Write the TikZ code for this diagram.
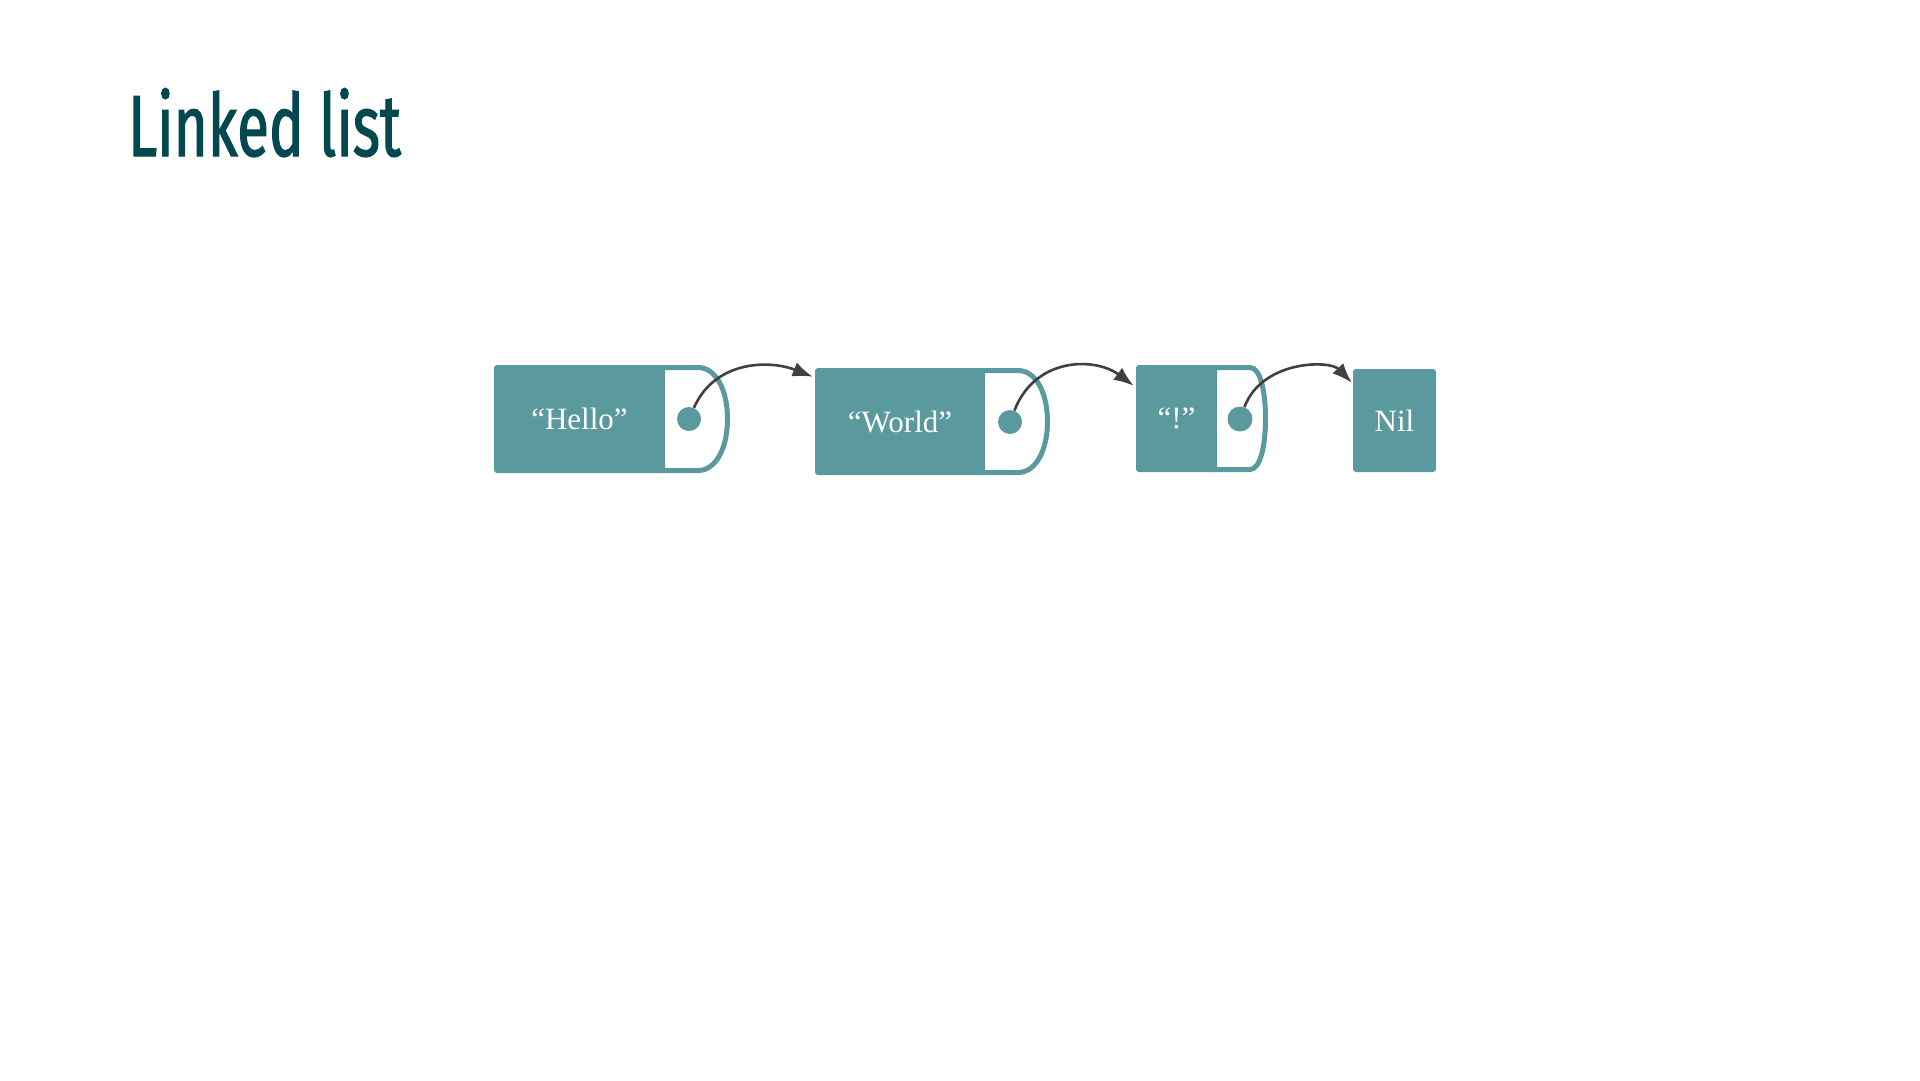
\documentclass[tikz,border=0pt]{standalone}
\usepackage{fontspec}
\setmainfont{Liberation Serif}
\newfontfamily\titlefont[FakeStretch=0.67,FakeBold=1.3]{Fira Sans}
\usetikzlibrary{arrows.meta}
\definecolor{teal1}{RGB}{90,154,158}
\definecolor{titlec}{RGB}{3,71,79}
\definecolor{arrowc}{RGB}{64,64,64}
\tikzset{
  cell/.style={fill=teal1, rounded corners=3pt, inner sep=0pt, text=white,
    font=\fontsize{31}{31}\selectfont, minimum height=#1},
  cell/.default=107pt,
  outline/.style={draw=teal1, line width=5pt},
  dotnode/.style={circle, fill=teal1, inner sep=0pt, minimum size=24pt},
  link/.style={draw=arrowc, line width=2.6pt, -{Latex[length=20pt,width=15pt]}}
}
\begin{document}
\begin{tikzpicture}[x=1pt,y=-1pt]
\useasboundingbox (0,0) rectangle (1920,1080);
% title
\node[anchor=base west, inner sep=0pt, text=titlec, font=\titlefont\fontsize{87}{87}\selectfont] (title) at (128,156) {Linked list};
% outlines of pointer cells
\draw[outline] (660,367.5) -- (698,367.5) .. controls (716,367.5) and (727.5,390) .. (727.5,419) .. controls (727.5,448) and (716,470.5) .. (698,470.5) -- (660,470.5);
\draw[outline] (980,370.5) -- (1018,370.5) .. controls (1036,370.5) and (1047.5,393) .. (1047.5,421.5) .. controls (1047.5,450) and (1036,472.5) .. (1018,472.5) -- (980,472.5);
\draw[outline] (1212,367.5) -- (1250,367.5) .. controls (1260,367.5) and (1265.5,390) .. (1265.5,418.5) .. controls (1265.5,447) and (1260,469.5) .. (1250,469.5) -- (1212,469.5);
% data cells
\node[cell=108pt, minimum width=171pt] (h) at (579.5,419) {“Hello”};
\node[cell=107pt, minimum width=170pt] (w) at (900,421.5) {“World”};
\node[cell=107pt, minimum width=81pt] (e) at (1176.5,418.5) {“!”};
\node[cell=103pt, minimum width=83pt] (nil) at (1394.5,420.5) {Nil};
% pointer dots
\node[dotnode] (hd) at (689,419) {};
\node[dotnode] (wd) at (1010,422) {};
\node[dotnode, minimum size=25pt] (ed) at (1240,419) {};
% links
\draw[link] (hd) .. controls +(26,-59) and +(-43,-17) .. ([xshift=-2pt,yshift=-9pt]w.north west);
\draw[link] (wd) .. controls +(25,-65) and +(-39,-29) .. ([xshift=-2pt,yshift=-21pt]e.north west);
\draw[link] (ed) .. controls +(22,-59) and +(-22,-23) .. ([xshift=-1pt,yshift=-14pt]nil.north west);
\end{tikzpicture}
\end{document}
